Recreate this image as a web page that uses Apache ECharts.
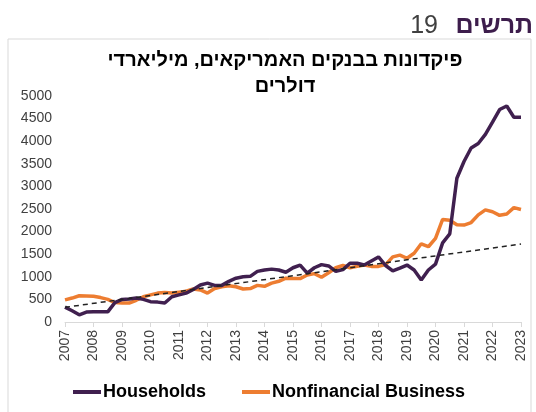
<!DOCTYPE html>
<html>
<head>
<meta charset="utf-8">
<script src="https://cdn.jsdelivr.net/npm/echarts@6/dist/echarts.min.js"></script>
<style>
  html, body { margin: 0; padding: 0; background: #fff; }
  #container { width: 536px; height: 412px; }
</style>
</head>
<body>
<div id="container"></div>
<script>
/* Data: quarterly deposits, 2007Q1 .. 2023Q1 */
var years = ['2007', '2008', '2009', '2010', '2011', '2012', '2013', '2014', '2015',
             '2016', '2017', '2018', '2019', '2020', '2021', '2022', '2023'];
var quarters = [];
years.forEach(function (y, i) {
    var n = (i === years.length - 1) ? 1 : 4;
    for (var q = 1; q <= n; q++) quarters.push(y + 'Q' + q);
});

var households = [
    330, 250, 160, 220, 225, 225, 225, 430, 500, 510, 530, 500,
    450, 440, 420, 560, 600, 640, 720, 820, 860, 810, 810, 900,
    970, 1000, 1010, 1120, 1150, 1170, 1150, 1100, 1200, 1260, 1080, 1200,
    1270, 1240, 1120, 1160, 1300, 1300, 1260, 1350, 1440, 1250, 1130, 1190,
    1260, 1150, 930, 1150, 1280, 1750, 1950, 3180, 3550, 3850, 3950, 4150,
    4420, 4700, 4780, 4530, 4530
];
var business = [
    490, 530, 580, 575, 570, 540, 500, 430, 420, 420, 480, 560,
    600, 640, 650, 640, 660, 680, 730, 710, 640, 740, 780, 800,
    780, 730, 740, 810, 790, 860, 900, 970, 960, 960, 1040, 1070,
    990, 1090, 1200, 1250, 1200, 1230, 1260, 1230, 1230, 1270, 1440, 1480,
    1410, 1520, 1730, 1665, 1850, 2270, 2250, 2150, 2145, 2200, 2370, 2480,
    2440, 2360, 2390, 2530, 2490
];
// linear trend line end points (first and last quarter)
var trend = [[0, 325], [64, 1725]];

var seriesNames = ['Households', 'Nonfinancial Business'];
var yTicks = { min: 0, max: 5000, interval: 500 };

var font = '"Liberation Sans", Arial, sans-serif';

var dom = document.getElementById('container');
var myChart = echarts.init(dom, null, { renderer: 'canvas' });

var option = {
    backgroundColor: '#ffffff',
    animation: false,
    grid: { left: 65, right: 15, top: 96, bottom: 90, containLabel: false },
    graphic: [
        {
            type: 'rect',
            shape: { x: 8, y: 39, width: 523, height: 390 },
            style: { fill: 'none', stroke: '#d9d9d9', lineWidth: 1 }
        },
        {
            type: 'text',
            style: {
                text: 'תרשים', x: 533, y: 14, textAlign: 'right',
                font: 'bold 25px ' + font, fill: '#3d1d4c'
            }
        },
        {
            type: 'text',
            style: {
                text: '19', x: 438, y: 14, textAlign: 'right',
                font: '25px ' + font, fill: '#404040'
            }
        },
        {
            type: 'text',
            style: {
                text: 'פיקדונות בבנקים האמריקאים, מיליארדי\nדולרים',
                x: 285, y: 47, textAlign: 'center', lineHeight: 26,
                font: 'bold 20px ' + font, fill: '#000000'
            }
        }
    ],
    legend: {
        data: seriesNames,
        bottom: 6,
        left: 68,
        itemGap: 36,
        itemWidth: 28,
        itemHeight: 4,
        icon: 'rect',
        textStyle: { fontFamily: font, fontSize: 18, fontWeight: 'bold', color: '#000', padding: [0, 0, 0, -3] }
    },
    xAxis: {
        type: 'category',
        data: quarters,
        boundaryGap: false,
        axisLine: { lineStyle: { color: '#d9d9d9', width: 1 } },
        axisTick: { interval: 3, length: 5, lineStyle: { color: '#d9d9d9' } },
        axisLabel: {
            interval: 3,
            rotate: 90,
            margin: 8,
            fontFamily: font,
            fontSize: 14,
            color: '#404040',
            formatter: function (v) { return v.slice(0, 4); }
        },
        splitLine: { show: false }
    },
    yAxis: {
        type: 'value',
        min: yTicks.min,
        max: yTicks.max,
        interval: yTicks.interval,
        axisLine: { show: false },
        axisTick: { show: false },
        splitLine: { show: false },
        axisLabel: {
            margin: 13, fontFamily: font, fontSize: 14, color: '#404040',
            formatter: function (v) { return String(v); }
        }
    },
    series: [
        {
            name: seriesNames[0],
            type: 'line',
            data: households,
            symbol: 'none',
            z: 3,
            lineStyle: { color: '#40204f', width: 3.5 },
            itemStyle: { color: '#40204f' }
        },
        {
            name: seriesNames[1],
            type: 'line',
            data: business,
            symbol: 'none',
            z: 2,
            lineStyle: { color: '#ed7d31', width: 3.5 },
            itemStyle: { color: '#ed7d31' }
        },
        {
            name: 'trend',
            type: 'line',
            data: trend,
            symbol: 'none',
            z: 4,
            lineStyle: { color: '#222', width: 1.5, type: [5, 4] }
        }
    ]
};

myChart.setOption(option);
</script>
</body>
</html>
